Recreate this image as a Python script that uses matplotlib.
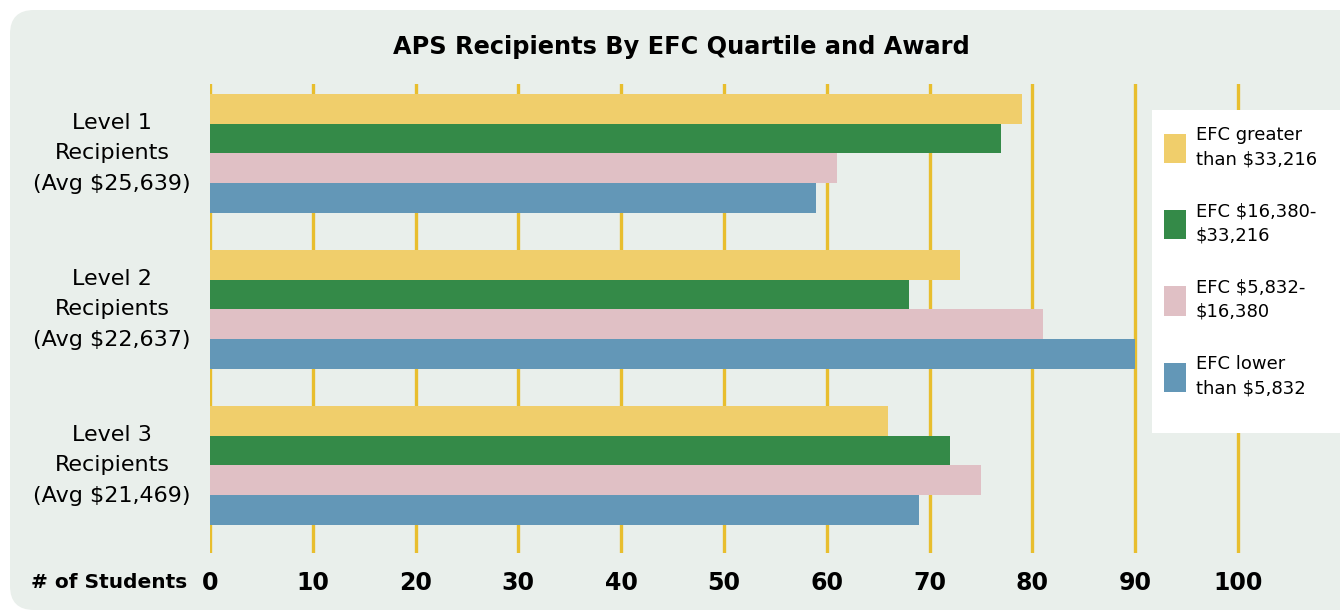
import numpy as np
import matplotlib.pyplot as plt
from matplotlib.patches import FancyBboxPatch, Rectangle
from matplotlib.transforms import IdentityTransform

title = 'APS Recipients By EFC Quartile and Award'
levels = ['Level 1\nRecipients\n(Avg $25,639)',
          'Level 2\nRecipients\n(Avg $22,637)',
          'Level 3\nRecipients\n(Avg $21,469)']
series_names = ['EFC greater\nthan $33,216',
                'EFC $16,380-\n$33,216',
                'EFC $5,832-\n$16,380',
                'EFC lower\nthan $5,832']
efc_high = [79, 73, 66]
efc_upper_mid = [77, 68, 72]
efc_lower_mid = [61, 81, 75]
efc_low = [59, 90, 69]
x_ticks = [0, 10, 20, 30, 40, 50, 60, 70, 80, 90, 100]
colors = ['#F0CE6B', '#348A48', '#E0C0C5', '#6397B7']

W, H = 1340, 611
fig = plt.figure(figsize=(W / 100, H / 100), dpi=100)
fig.patch.set_facecolor('white')

# rounded panel behind everything (pixel coords, origin bottom-left)
panel = FancyBboxPatch((10, H - 610), 1400, 600,
                       boxstyle='round,pad=0,rounding_size=24',
                       transform=IdentityTransform(), facecolor='#E9EFEB',
                       edgecolor='none', zorder=-10)
fig.patches.append(panel)

ax = fig.add_axes([210 / W, (H - 553) / H, 1069 / W, 469 / H])
ax.set_facecolor('none')

values = [efc_high, efc_upper_mid, efc_lower_mid, efc_low]
y = np.arange(len(levels))
h = 0.192
for i, (vals, c, name) in enumerate(zip(values, colors, series_names)):
    ax.barh(y + (i - 1.5) * h, vals, height=h, color=c, label=name, zorder=3)

ax.set_xlim(0, 104)
ax.set_ylim(2.561, -0.4455)
ax.set_xticks(x_ticks)
ax.set_xticklabels([str(t) for t in x_ticks], fontsize=17, fontweight='bold')
ax.set_yticks([])
ax.tick_params(axis='x', length=0, pad=13)
for t in x_ticks:
    ax.axvline(t, color='#E8BE2E', lw=2.4, zorder=1)
for s in ax.spines.values():
    s.set_visible(False)

for yi, lab in zip(y, levels):
    ax.text(-0.0917, yi, lab, transform=ax.get_yaxis_transform(),
            ha='center', va='center', fontsize=16, linespacing=1.68)

fig.text(187 / W, (H - 582) / H, '# of Students', ha='right', va='center',
         fontsize=14.5, fontweight='bold')
fig.text(681 / W, (H - 47) / H, title, ha='center', va='center',
         fontsize=17.3, fontweight='bold')

# white legend box, above the gridlines
ax.add_artist(Rectangle((1152, H - 433), 220, 323,
                        transform=IdentityTransform(), facecolor='white',
                        edgecolor='none', zorder=4, clip_on=False))
leg = ax.legend(loc='upper left', bbox_to_anchor=(1155 / W, (H - 117) / H),
                bbox_transform=fig.transFigure, frameon=False, fontsize=13,
                handlelength=1.22, handleheight=2.1, handletextpad=0.55,
                labelspacing=1.88, borderpad=0)
for t in leg.get_texts():
    t.set_linespacing(1.45)
leg.set_zorder(5)

fig.savefig('out.png', dpi=100)
